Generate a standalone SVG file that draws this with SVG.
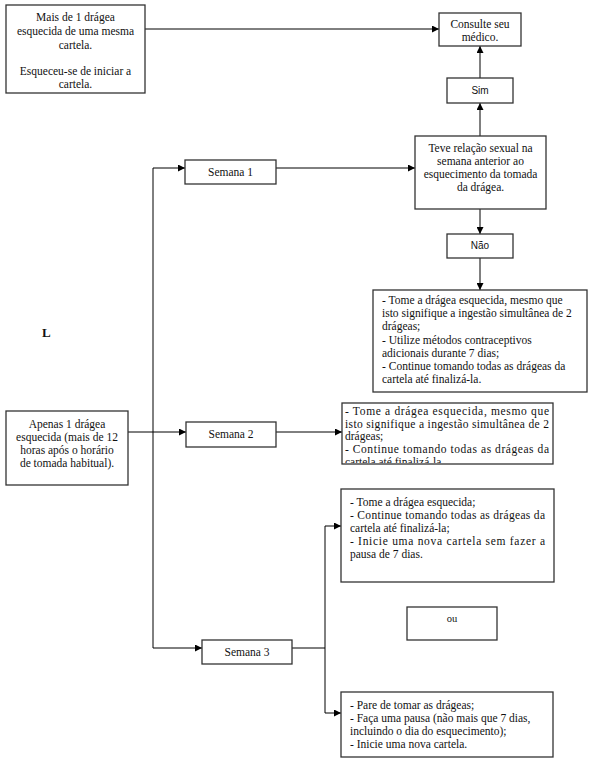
<svg xmlns="http://www.w3.org/2000/svg" width="592" height="768" viewBox="0 0 592 768">
<defs>
<marker id="arr" viewBox="0 0 10 10" refX="10" refY="5" markerWidth="7" markerHeight="7" markerUnits="userSpaceOnUse" orient="auto">
<path d="M0,0 L10,5 L0,10 z" fill="#000"/>
</marker>
<clipPath id="clip2"><rect x="342" y="403" width="211" height="60"/></clipPath>
</defs>
<style>
.box{fill:#fff;stroke:#333;stroke-width:1.3}
.t{font-family:"Liberation Serif","Times New Roman",serif;font-size:11.5px;fill:#111}
.c{text-anchor:middle}
.s{font-family:"Liberation Sans",Arial,sans-serif;font-size:10px;fill:#111;text-anchor:middle}
.ln{fill:none;stroke:#000;stroke-width:1}
</style>
<rect width="592" height="768" fill="#fff"/>

<g id="connectors">
<path class="ln" d="M145,29 H439" marker-end="url(#arr)"/>
<path class="ln" d="M480,78 V46" marker-end="url(#arr)"/>
<path class="ln" d="M480,136 V103" marker-end="url(#arr)"/>
<path class="ln" d="M480,209 V234" marker-end="url(#arr)"/>
<path class="ln" d="M480,258 V290" marker-end="url(#arr)"/>
<path class="ln" d="M276,168 H415" marker-end="url(#arr)"/>
<path class="ln" d="M153,432 V168 H185" marker-end="url(#arr)"/>
<path class="ln" d="M153,432 V648 H202" marker-end="url(#arr)"/>
<path class="ln" d="M128,432 H186" marker-end="url(#arr)"/>
<path class="ln" d="M276,432 H342" marker-end="url(#arr)"/>
<path class="ln" d="M292,648 H325"/>
<path class="ln" d="M325,648 V526 H341" marker-end="url(#arr)"/>
<path class="ln" d="M325,648 V713 H341" marker-end="url(#arr)"/>
</g>

<g id="n-mais">
<rect class="box" x="6" y="5" width="139" height="88"/>
<text class="t c" x="75.5" y="21">Mais de 1 drágea</text>
<text class="t c" x="75.5" y="35">esquecida de uma mesma</text>
<text class="t c" x="75.5" y="49">cartela.</text>
<text class="t c" x="75.5" y="75">Esqueceu-se de iniciar a</text>
<text class="t c" x="75.5" y="88">cartela.</text>
</g>

<g id="n-consulte">
<rect class="box" x="439" y="13" width="82" height="33"/>
<text class="t c" x="480" y="28">Consulte seu</text>
<text class="t c" x="480" y="41">médico.</text>
</g>

<g id="n-sim">
<rect class="box" x="447" y="78" width="66" height="25"/>
<text class="s" x="480" y="94">Sim</text>
</g>

<g id="n-teve">
<rect class="box" x="415" y="136" width="131" height="73"/>
<text class="t c" x="480.5" y="152">Teve relação sexual na</text>
<text class="t c" x="480.5" y="165">semana anterior ao</text>
<text class="t c" x="480.5" y="178">esquecimento da tomada</text>
<text class="t c" x="480.5" y="191">da drágea.</text>
</g>

<g id="n-semana1">
<rect class="box" x="185" y="160" width="91" height="24"/>
<text class="t c" x="230.5" y="176">Semana 1</text>
</g>

<g id="n-nao">
<rect class="box" x="447" y="234" width="66" height="24"/>
<text class="s" x="480" y="249">Não</text>
</g>

<g id="n-acao1">
<rect class="box" x="373" y="290" width="214" height="102"/>
<text class="t" x="382" y="304">- Tome a drágea esquecida, mesmo que</text>
<text class="t" x="382" y="317">isto signifique a ingestão simultânea de 2</text>
<text class="t" x="382" y="330">drágeas;</text>
<text class="t" x="382" y="344">- Utilize métodos contraceptivos</text>
<text class="t" x="382" y="357">adicionais durante 7 dias;</text>
<text class="t" x="382" y="370">- Continue tomando todas as drágeas da</text>
<text class="t" x="382" y="383">cartela até finalizá-la.</text>
</g>

<g id="n-L">
<text class="t" x="42" y="337" style="font-weight:bold;font-size:13px">L</text>
</g>

<g id="n-apenas">
<rect class="box" x="6" y="411" width="122" height="74"/>
<text class="t c" x="67" y="428">Apenas 1 drágea</text>
<text class="t c" x="67" y="441">esquecida (mais de 12</text>
<text class="t c" x="67" y="454">horas após o horário</text>
<text class="t c" x="67" y="467">de tomada habitual).</text>
</g>

<g id="n-semana2">
<rect class="box" x="186" y="422" width="90" height="25"/>
<text class="t c" x="231" y="438">Semana 2</text>
</g>

<g id="n-acao2">
<rect class="box" x="342" y="403" width="211" height="61"/>
<g clip-path="url(#clip2)">
<text class="t" x="345" y="415" textLength="204" lengthAdjust="spacing">- Tome a drágea esquecida, mesmo que</text>
<text class="t" x="345" y="428" textLength="204" lengthAdjust="spacing">isto signifique a ingestão simultânea de 2</text>
<text class="t" x="345" y="440">drágeas;</text>
<text class="t" x="345" y="453" textLength="204" lengthAdjust="spacing">- Continue tomando todas as drágeas da</text>
<text class="t" x="345" y="466">cartela até finalizá-la.</text>
</g>
</g>

<g id="n-acao3a">
<rect class="box" x="341" y="489" width="213" height="93"/>
<text class="t" x="350" y="506">- Tome a drágea esquecida;</text>
<text class="t" x="350" y="519" textLength="195" lengthAdjust="spacing">- Continue tomando todas as drágeas da</text>
<text class="t" x="350" y="532">cartela até finalizá-la;</text>
<text class="t" x="350" y="545" textLength="195" lengthAdjust="spacing">- Inicie uma nova cartela sem fazer a</text>
<text class="t" x="350" y="558">pausa de 7 dias.</text>
</g>

<g id="n-ou">
<rect class="box" x="407" y="607" width="90" height="33"/>
<text class="t c" x="452" y="622" style="font-size:10.5px">ou</text>
</g>

<g id="n-semana3">
<rect class="box" x="202" y="640" width="90" height="24"/>
<text class="t c" x="247" y="656">Semana 3</text>
</g>

<g id="n-acao3b">
<rect class="box" x="341" y="692" width="212" height="65"/>
<text class="t" x="350" y="709">- Pare de tomar as drágeas;</text>
<text class="t" x="350" y="722">- Faça uma pausa (não mais que 7 dias,</text>
<text class="t" x="350" y="735">incluindo o dia do esquecimento);</text>
<text class="t" x="350" y="748">- Inicie uma nova cartela.</text>
</g>
</svg>
